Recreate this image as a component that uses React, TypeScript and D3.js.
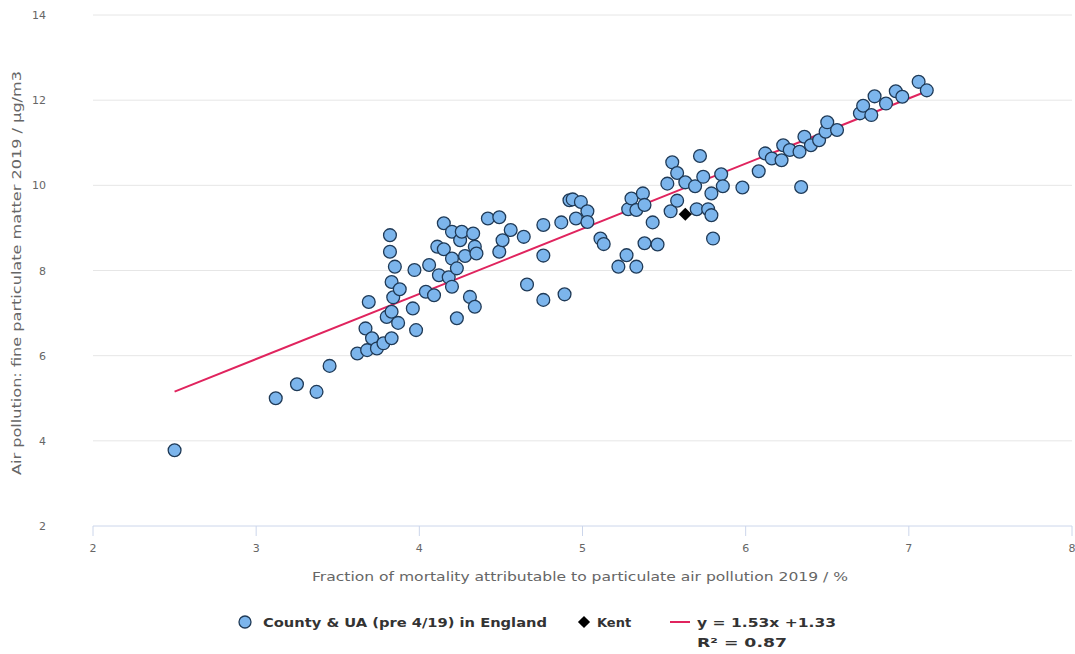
import React from "react";
import * as d3 from "d3";

// County & unitary authority values: fraction of mortality attributable to
// particulate air pollution (%) against fine particulate matter (µg/m3), 2019.
const countyX: number[] = [
  2.50, 3.12, 3.25, 3.37, 3.45,
  3.62, 3.67, 3.68, 3.69, 3.71, 3.74, 3.78, 3.80, 3.82, 3.82, 3.83, 3.83, 3.83, 3.84, 3.85,
  3.87, 3.88, 3.96, 3.97, 3.98,
  4.04, 4.06, 4.09, 4.11, 4.12, 4.15, 4.15, 4.18, 4.20, 4.20, 4.20, 4.23, 4.23, 4.25, 4.26,
  4.28, 4.31, 4.33, 4.34, 4.34, 4.35, 4.42, 4.49, 4.49, 4.51, 4.56, 4.64, 4.66, 4.76, 4.76,
  4.76, 4.87, 4.89,
  4.92, 4.94, 4.99, 5.03, 4.96, 5.03, 5.11, 5.13, 5.22, 5.27, 5.28, 5.30, 5.33, 5.33, 5.37,
  5.38, 5.38, 5.43, 5.46, 5.52, 5.54, 5.55, 5.58, 5.58, 5.63, 5.69, 5.70, 5.72, 5.74, 5.77,
  5.79, 5.79, 5.80, 5.85, 5.86, 5.98,
  6.08, 6.12, 6.16, 6.22, 6.23, 6.27, 6.33, 6.34, 6.36, 6.40, 6.45, 6.49, 6.50, 6.56, 6.70,
  6.72, 6.77, 6.79, 6.86, 6.92, 6.96, 7.06, 7.11,
];

const countyY: number[] = [
  3.78, 5.00, 5.33, 5.15, 5.76,
  6.05, 6.64, 6.13, 7.26, 6.41, 6.17, 6.29, 6.91, 8.83, 8.44, 7.73, 7.03, 6.41, 7.37, 8.09,
  6.77, 7.56, 7.11, 8.01, 6.60,
  7.50, 8.13, 7.42, 8.56, 7.89, 9.11, 8.50, 7.84, 8.91, 8.28, 7.62, 6.88, 8.05, 8.71, 8.91,
  8.34, 7.38, 8.87, 8.56, 7.15, 8.40, 9.22, 9.25, 8.44, 8.71, 8.95, 8.79, 7.67, 9.07, 8.35,
  7.31, 9.13, 7.44,
  9.65, 9.67, 9.61, 9.39, 9.22, 9.14, 8.75, 8.62, 8.09, 8.36, 9.44, 9.69, 9.42, 8.09, 9.81,
  9.54, 8.64, 9.13, 8.61, 10.04, 9.39, 10.54, 9.64, 10.29, 10.07, 9.98, 9.44, 10.69, 10.20, 9.44,
  9.81, 9.30, 8.75, 10.26, 9.98, 9.95,
  10.33, 10.75, 10.63, 10.59, 10.94, 10.83, 10.79, 9.96, 11.14, 10.94, 11.06, 11.26, 11.48, 11.30, 11.69,
  11.87, 11.65, 12.09, 11.92, 12.21, 12.08, 12.43, 12.23,
];

const kentX: number[] = [5.63];
const kentY: number[] = [9.32];

// Linear fit shown in the legend
const trendSlope = 1.53;
const trendIntercept = 1.33;
const trendLabel = "y = 1.53x +1.33";
const r2Label = "R\u00B2 = 0.87";

const xTicks: number[] = [2, 3, 4, 5, 6, 7, 8];
const yTicks: number[] = [2, 4, 6, 8, 10, 12, 14];

const xTitle = "Fraction of mortality attributable to particulate air pollution 2019  / %";
const yTitle = "Air pollution: fine particulate matter 2019 / \u00B5g/m3";
const countySeriesName = "County & UA (pre 4/19) in England";
const kentSeriesName = "Kent";

const W = 1075;
const H = 654;
const FONT = "'DejaVu Sans', Verdana, sans-serif";

export default function App() {
  const x = d3.scaleLinear().domain([2, 8]).range([93, 1072]);
  const y = d3.scaleLinear().domain([2, 14]).range([526, 15]);

  const xMin = d3.min(countyX) as number;
  const xMax = d3.max(countyX) as number;
  const trendPts: [number, number][] = [xMin, xMax].map((v) => [v, trendSlope * v + trendIntercept]);
  const trendPath = d3
    .line<[number, number]>()
    .x((d) => x(d[0]))
    .y((d) => y(d[1]))(trendPts) as string;

  const diamond = d3.symbol().type(d3.symbolDiamond2).size(110)() as string;
  const legendDiamond = d3.symbol().type(d3.symbolDiamond2).size(95)() as string;

  const pts = countyX.map((v, i) => [v, countyY[i]] as [number, number]);

  return (
    <div style={{ position: "absolute", left: 0, top: 0 }}>
      <svg width={W} height={H} style={{ display: "block", background: "#fff" }}>
        {/* horizontal grid */}
        {yTicks
          .filter((t) => t !== 2)
          .map((t) => (
            <line key={"g" + t} x1={93} x2={1072} y1={y(t)} y2={y(t)} stroke="#e6e6e6" strokeWidth={1} />
          ))}
        {/* x axis line and ticks */}
        <line x1={93} x2={1072} y1={y(2)} y2={y(2)} stroke="#ccd6eb" strokeWidth={1} />
        {xTicks.map((t) => (
          <line key={"xt" + t} x1={x(t)} x2={x(t)} y1={y(2)} y2={y(2) + 10} stroke="#ccd6eb" strokeWidth={1} />
        ))}
        {xTicks.map((t) => (
          <text key={"xl" + t} x={x(t)} y={552} textAnchor="middle" fontFamily={FONT} fontSize={11} fill="#666">
            {t}
          </text>
        ))}
        {yTicks.map((t) => (
          <text key={"yl" + t} x={46} y={y(t) + 4} textAnchor="end" fontFamily={FONT} fontSize={11} fill="#666">
            {t}
          </text>
        ))}
        {/* axis titles */}
        <text
          x={580}
          y={581}
          textAnchor="middle"
          fontFamily={FONT}
          fontSize={12.5}
          fill="#666"
          textLength={536}
          lengthAdjust="spacingAndGlyphs"
        >
          {xTitle}
        </text>
        <text
          transform={`translate(21, 273) rotate(-90)`}
          textAnchor="middle"
          fontFamily={FONT}
          fontSize={12.5}
          fill="#666"
          textLength={404}
          lengthAdjust="spacingAndGlyphs"
        >
          {yTitle}
        </text>

        {/* trend line */}
        <path d={trendPath} fill="none" stroke="#e0245e" strokeWidth={2} />

        {/* county points */}
        {pts.map((p, i) => (
          <circle key={"c" + i} cx={x(p[0])} cy={y(p[1])} r={6.4} fill="#7cb5ec" stroke="#1f3a57" strokeWidth={1.3} />
        ))}

        {/* Kent */}
        {kentX.map((v, i) => (
          <path key={"k" + i} d={diamond} transform={`translate(${x(v)},${y(kentY[i])})`} fill="#000" />
        ))}

        {/* legend */}
        <g fontFamily={FONT} fontSize={13} fontWeight="bold" fill="#333">
          <circle cx={245} cy={622} r={6} fill="#7cb5ec" stroke="#1f3a57" strokeWidth={1.3} />
          <text x={263} y={627} textLength={284} lengthAdjust="spacingAndGlyphs">{countySeriesName}</text>
          <path d={legendDiamond} transform="translate(584,622)" fill="#000" />
          <text x={597} y={627}>{kentSeriesName}</text>
          <line x1={670} x2={690} y1={622} y2={622} stroke="#e0245e" strokeWidth={2} />
          <text x={697} y={627} textLength={139} lengthAdjust="spacingAndGlyphs">{trendLabel}</text>
          <text x={697} y={647} textLength={90} lengthAdjust="spacingAndGlyphs">{r2Label}</text>
        </g>
      </svg>
    </div>
  );
}
